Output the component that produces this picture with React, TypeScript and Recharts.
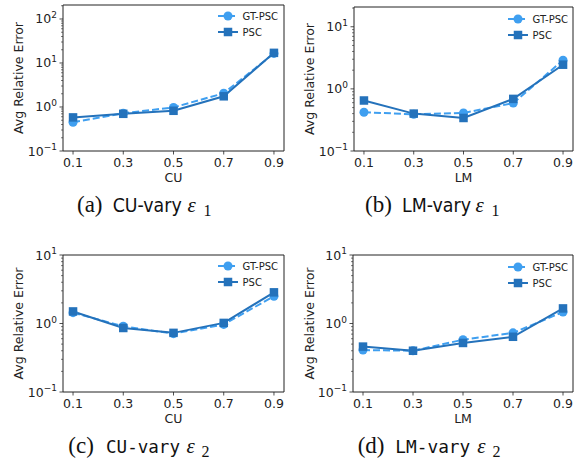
import React from 'react';
import { LineChart, Line, XAxis, YAxis, ReferenceArea, Legend } from 'recharts';

// ---------- data ----------
const xValues = [0.1, 0.3, 0.5, 0.7, 0.9];
const xTickLabels = ['0.1', '0.3', '0.5', '0.7', '0.9'];
const seriesNames = ['GT-PSC', 'PSC'];

const cuEps1GT = [0.45, 0.72, 0.98, 2.05, 16.5];
const cuEps1PSC = [0.58, 0.7, 0.82, 1.75, 17.0];
const lmEps1GT = [0.42, 0.39, 0.41, 0.59, 2.9];
const lmEps1PSC = [0.65, 0.4, 0.34, 0.69, 2.45];
const cuEps2GT = [1.44, 0.91, 0.71, 0.97, 2.5];
const cuEps2PSC = [1.5, 0.86, 0.73, 1.02, 2.85];
const lmEps2GT = [0.41, 0.4, 0.58, 0.73, 1.47];
const lmEps2PSC = [0.46, 0.4, 0.52, 0.64, 1.66];

const yMajorA = [0.1, 1, 10, 100];
const yMajorB = [0.1, 1, 10];

// ---------- style ----------
const GT_COLOR = '#3f9ff0';
const PSC_COLOR = '#2472bb';
const INK = '#222';
const FONT = '"DejaVu Sans", sans-serif';

function makeMinor(majors: number[], yMax: number) {
  const out: number[] = [];
  majors.forEach((m) => {
    for (let k = 2; k <= 9; k++) {
      const v = +(k * m).toPrecision(3);
      if (v <= yMax) out.push(v);
    }
  });
  return out;
}

const YTick = (props: any) => {
  const { x, y, payload } = props;
  const v = payload.value;
  const lg = Math.log10(v);
  const e = Math.round(lg);
  const isMajor = Math.abs(lg - e) < 1e-6;
  if (!isMajor) {
    return <line x1={x - 2} x2={x} y1={y} y2={y} stroke={INK} strokeWidth={0.6} />;
  }
  const exp = e < 0 ? '\u2212' + Math.abs(e) : String(e);
  return (
    <g>
      <line x1={x - 3.5} x2={x} y1={y} y2={y} stroke={INK} strokeWidth={0.8} />
      <text x={x - 6} y={y + 4.5} textAnchor="end" fontSize={12.5} fontFamily={FONT} fill={INK}>
        10
        <tspan dy={-5.5} fontSize={9}>
          {exp}
        </tspan>
      </text>
    </g>
  );
};

const XTick = (props: any) => {
  const { x, y, payload } = props;
  const idx = xValues.indexOf(payload.value);
  return (
    <g>
      <line x1={x} x2={x} y1={y} y2={y + 3.5} stroke={INK} strokeWidth={0.8} />
      <text x={x} y={y + 16} textAnchor="middle" fontSize={12.5} fontFamily={FONT} fill={INK}>
        {idx >= 0 ? xTickLabels[idx] : ''}
      </text>
    </g>
  );
};

const LegendBox = () => (
  <svg width={80} height={34} style={{ display: 'block', overflow: 'visible' }}>
    <line x1={0} x2={20} y1={8} y2={8} stroke={GT_COLOR} strokeWidth={2} strokeDasharray="7 3" />
    <circle cx={10} cy={8} r={4.5} fill={GT_COLOR} />
    <text x={24.5} y={11.6} fontSize={10} fontFamily={FONT} fill={INK}>
      {seriesNames[0]}
    </text>
    <line x1={0} x2={20} y1={24} y2={24} stroke={PSC_COLOR} strokeWidth={2} />
    <rect x={5.75} y={19.75} width={8.5} height={8.5} fill={PSC_COLOR} />
    <text x={24.5} y={27.6} fontSize={10} fontFamily={FONT} fill={INK}>
      {seriesNames[1]}
    </text>
  </svg>
);

const circleDot = (p: any) => (
  <circle key={`c-${p.index}`} cx={p.cx} cy={p.cy} r={4.5} fill={GT_COLOR} stroke="none" />
);
const squareDot = (p: any) => (
  <rect key={`s-${p.index}`} x={p.cx - 4.25} y={p.cy - 4.25} width={8.5} height={8.5} fill={PSC_COLOR} stroke="none" />
);

type PanelProps = {
  left: number;
  top: number;
  width: number;
  height: number;
  boxLeft: number;
  boxRight: number;
  boxTop: number;
  boxBottom: number;
  xLabel: string;
  gt: number[];
  psc: number[];
  yMax: number;
  majors: number[];
  legendLeft: number;
  legendTop: number;
};

const Panel = (p: PanelProps) => {
  const data = xValues.map((x, i) => ({ x, gt: p.gt[i], psc: p.psc[i] }));
  const majors = p.majors.filter((m) => m <= p.yMax);
  const yTicks = [...majors, ...makeMinor(p.majors, p.yMax)];
  const xAxisHeight = p.height - p.boxBottom;
  return (
    <div style={{ position: 'absolute', left: p.left, top: p.top }}>
      <LineChart
        width={p.width}
        height={p.height}
        data={data}
        margin={{ left: 0, top: p.boxTop, right: p.width - p.boxRight, bottom: 0 }}
      >
        <XAxis
          dataKey="x"
          type="number"
          domain={[0.06, 0.94]}
          allowDataOverflow
          ticks={xValues}
          interval={0}
          tickSize={0}
          tickMargin={0}
          tickLine={false}
          axisLine={false}
          height={xAxisHeight}
          tick={<XTick />}
          label={{
            value: p.xLabel,
            position: 'insideBottom',
            offset: xAxisHeight - 31,
            style: { fontSize: 12.5, fontFamily: FONT, fill: INK },
          }}
        />
        <YAxis
          type="number"
          scale="log"
          domain={[0.1, p.yMax]}
          allowDataOverflow
          ticks={yTicks}
          interval={0}
          tickSize={0}
          tickMargin={0}
          tickLine={false}
          axisLine={false}
          width={p.boxLeft}
          tick={<YTick />}
          label={{
            value: 'Avg Relative Error',
            angle: -90,
            position: 'insideLeft',
            offset: 19,
            style: { textAnchor: 'middle', fontSize: 12.5, fontFamily: FONT, fill: INK },
          }}
        />
        <Line
          dataKey="gt"
          name={seriesNames[0]}
          type="linear"
          stroke={GT_COLOR}
          strokeWidth={2}
          strokeDasharray="7 3"
          dot={circleDot}
          activeDot={false}
          isAnimationActive={false}
        />
        <Line
          dataKey="psc"
          name={seriesNames[1]}
          type="linear"
          stroke={PSC_COLOR}
          strokeWidth={2}
          dot={squareDot}
          activeDot={false}
          isAnimationActive={false}
        />
        <ReferenceArea
          x1={0.06}
          x2={0.94}
          y1={0.1}
          y2={p.yMax}
          fill="none"
          stroke={INK}
          strokeWidth={1}
          ifOverflow="visible"
        />
        <Legend
          layout="horizontal"
          verticalAlign="middle"
          align="center"
          content={<LegendBox />}
          wrapperStyle={{ left: p.legendLeft, top: p.legendTop, width: 80, height: 34 }}
        />
      </LineChart>
    </div>
  );
};

const SERIF = '"Liberation Serif", "Times New Roman", serif';
const NARROW = '"Liberation Sans Narrow", "DejaVu Sans Condensed", "Liberation Sans", sans-serif';
const MONO = '"DejaVu Sans Mono", "Liberation Mono", monospace';

const Captions = () => (
  <svg width={582} height={461} style={{ position: 'absolute', left: 0, top: 0, pointerEvents: 'none' }}>
    <text y={212} fontSize={23} fontFamily={SERIF} fill="#111">
      <tspan x={77}>(a)</tspan>
      <tspan x={112.7} fontFamily={NARROW} fontSize={20} textLength={69} lengthAdjust="spacingAndGlyphs">CU-vary</tspan>
      <tspan x={187.5} fontStyle="italic" fontSize={21}>ε</tspan>
      <tspan x={203.5} dy={4} fontSize={16}>1</tspan>
    </text>
    <text y={212} fontSize={23} fontFamily={SERIF} fill="#111">
      <tspan x={365}>(b)</tspan>
      <tspan x={402} fontFamily={NARROW} fontSize={20} textLength={69} lengthAdjust="spacingAndGlyphs">LM-vary</tspan>
      <tspan x={475.5} fontStyle="italic" fontSize={21}>ε</tspan>
      <tspan x={491.5} dy={4} fontSize={16}>1</tspan>
    </text>
    <text y={453} fontSize={23} fontFamily={SERIF} fill="#111">
      <tspan x={68.3}>(c)</tspan>
      <tspan x={106} fontFamily={MONO} fontSize={18} textLength={74} lengthAdjust="spacingAndGlyphs">CU-vary</tspan>
      <tspan x={186.5} fontStyle="italic" fontSize={21}>ε</tspan>
      <tspan x={201.5} dy={4} fontSize={16}>2</tspan>
    </text>
    <text y={453} fontSize={23} fontFamily={SERIF} fill="#111">
      <tspan x={357.7}>(d)</tspan>
      <tspan x={395.3} fontFamily={MONO} fontSize={18} textLength={75} lengthAdjust="spacingAndGlyphs">LM-vary</tspan>
      <tspan x={477.2} fontStyle="italic" fontSize={21}>ε</tspan>
      <tspan x={492.5} dy={4} fontSize={16}>2</tspan>
    </text>
  </svg>
);

export default function App() {
  return (
    <div
      style={{
        position: 'absolute',
        left: 0,
        top: 0,
        width: 582,
        height: 461,
        background: '#fff',
        overflow: 'hidden',
      }}
    >
      <Panel
        left={0}
        top={0}
        width={291}
        height={200}
        boxLeft={63}
        boxRight={284}
        boxTop={5}
        boxBottom={151}
        xLabel="CU"
        gt={cuEps1GT}
        psc={cuEps1PSC}
        yMax={208}
        majors={yMajorA}
        legendLeft={218}
        legendTop={7.7}
      />
      <Panel
        left={291}
        top={0}
        width={291}
        height={200}
        boxLeft={63}
        boxRight={282}
        boxTop={7}
        boxBottom={151}
        xLabel="LM"
        gt={lmEps1GT}
        psc={lmEps1PSC}
        yMax={20.8}
        majors={yMajorB}
        legendLeft={216.7}
        legendTop={11}
      />
      <Panel
        left={0}
        top={230}
        width={291}
        height={200}
        boxLeft={63}
        boxRight={284}
        boxTop={25}
        boxBottom={162}
        xLabel="CU"
        gt={cuEps2GT}
        psc={cuEps2PSC}
        yMax={10}
        majors={yMajorB}
        legendLeft={218}
        legendTop={27.7}
      />
      <Panel
        left={291}
        top={230}
        width={291}
        height={200}
        boxLeft={62}
        boxRight={282}
        boxTop={25}
        boxBottom={162}
        xLabel="LM"
        gt={lmEps2GT}
        psc={lmEps2PSC}
        yMax={10}
        majors={yMajorB}
        legendLeft={216.7}
        legendTop={28.7}
      />
      <Captions />
    </div>
  );
}
